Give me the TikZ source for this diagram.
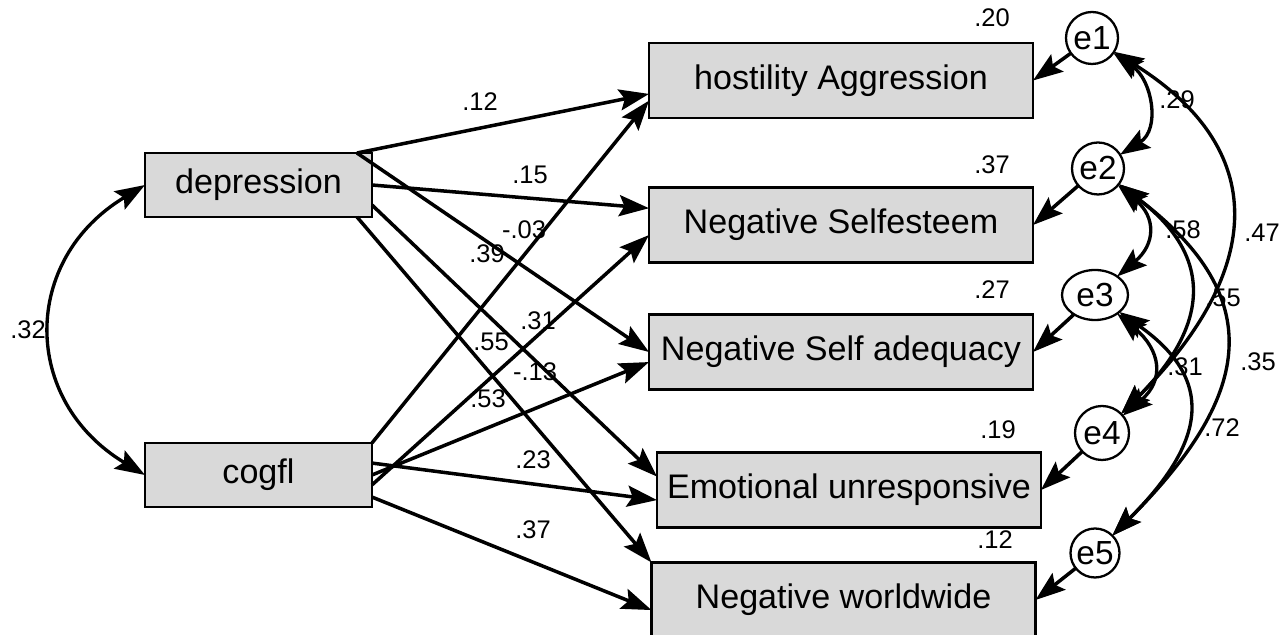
\documentclass[tikz,border=0pt]{standalone}
\usepackage{fontspec}
\setmainfont{Liberation Sans}
\usetikzlibrary{arrows.meta,shapes.geometric}

\definecolor{boxgray}{RGB}{217,217,217}

\tikzset{
  endobox/.style={draw,fill=boxgray,line width=1.4pt,outer sep=0pt,inner sep=0pt,
    minimum width=7.68cm,minimum height=1.5cm,font=\fontsize{19.4}{23}\selectfont},
  exobox/.style={endobox,minimum width=4.54cm,minimum height=1.28cm},
  errnode/.style={draw,circle,fill=white,line width=1.3pt,outer sep=0pt,inner sep=0pt,
    minimum size=1.04cm,font=\fontsize{19}{21}\selectfont},
  coef/.style={inner sep=0pt,font=\fontsize{14.5}{16}\selectfont},
  reg/.style={->,line width=2pt},
  cov/.style={<->,line width=1.9pt}
}

\begin{document}
\begin{tikzpicture}[x=0.2mm,y=0.2mm,>={Stealth[length=17pt,width=12pt,inset=3pt]}]
  \useasboundingbox (0,0) rectangle (1287,-635);

  % observed variables
  \node[exobox]  (dep) at (258.5,-185) {depression};
  \node[exobox]  (cog) at (258.5,-475) {cogfl};
  \node[endobox] (hos) at (841,-80.5)  {hostility Aggression};
  \node[endobox] (nse) at (841,-225)   {Negative Selfesteem};
  \node[endobox] (nsa) at (841,-352)   {Negative Self adequacy};
  \node[endobox] (emo) at (849,-490)   {Emotional unresponsive};
  \node[endobox] (nww) at (843.5,-600) {Negative worldwide};

  % error terms
  \node[errnode] (e1) at (1092,-38)   {e1};
  \node[errnode] (e2) at (1098,-168.5) {e2};
  \node[errnode,ellipse,minimum width=1.32cm,minimum height=1cm] (e3) at (1095,-295) {e3};
  \node[errnode,minimum size=1.08cm] (e4) at (1102,-433) {e4};
  \node[errnode,minimum size=0.98cm] (e5) at (1095,-553) {e5};

  % regression weights
  \path[reg] (dep.18) edge (hos.184)
             (dep.east) edge (nse.175.5)
             (dep.18) edge (nsa.180)
             (dep.-10) edge (emo.176.4)
             (dep.-18) edge (nww.north west)
        (cog.north east) edge (hos.186)
             (cog.-5.5) edge (nse.183.6)
             (cog.east) edge (nsa.183.9)
             (cog.6) edge (emo.183)
             (cog.-11) edge (nww.183.9);

  \path[reg] (e1) edge (hos.east)
             (e2) edge (nse.east)
             (e3) edge (nsa.east)
             (e4) edge (emo.east)
             (e5) edge (nww.east);

  % covariances
  \path[cov] (dep.west) edge [out=211,in=149,looseness=1.28] (cog.west)
        (e1) edge [out=-35,in=32,looseness=1.2] (e2)
             edge [out=-32,in=45,looseness=1.36] (e4)
        (e2) edge [out=-40,in=40,looseness=1.4] (e3)
             edge [out=-37,in=45,looseness=1.36] (e4)
             edge [out=-37,in=45,looseness=1.4] (e5)
        (e3) edge [out=-40,in=40,looseness=1.4] (e4)
             edge [out=-35,in=45,looseness=1.42] (e5);

  % estimates
  \node[coef] (w1)  at (480,-102) {.12};
  \node[coef] (w2)  at (530,-175) {.15};
  \node[coef] (w3)  at (524,-230) {-.03};
  \node[coef] (w4)  at (487,-254) {.39};
  \node[coef] (w5)  at (538,-321) {.31};
  \node[coef] (w6)  at (491,-342) {.55};
  \node[coef] (w7)  at (535,-372) {-.13};
  \node[coef] (w8)  at (488,-399) {.53};
  \node[coef] (w9)  at (533,-460) {.23};
  \node[coef] (w10) at (533,-530) {.37};
  \node[coef] (r0)  at (28,-330)  {.32};

  \node[coef] (r1) at (992,-18)  {.20};
  \node[coef] (r2) at (992,-165) {.37};
  \node[coef] (r3) at (992,-290) {.27};
  \node[coef] (r4) at (998,-430) {.19};
  \node[coef] (r5) at (995,-540) {.12};

  \node[coef] (k1) at (1177,-100) {.29};
  \node[coef] (k2) at (1262,-233) {.47};
  \node[coef] (k3) at (1183,-230) {.58};
  \node[coef] (k4) at (1223,-298) {.55};
  \node[coef] (k5) at (1258,-362) {.35};
  \node[coef] (k6) at (1185,-367) {.31};
  \node[coef] (k7) at (1222,-428) {.72};
\end{tikzpicture}
\end{document}
